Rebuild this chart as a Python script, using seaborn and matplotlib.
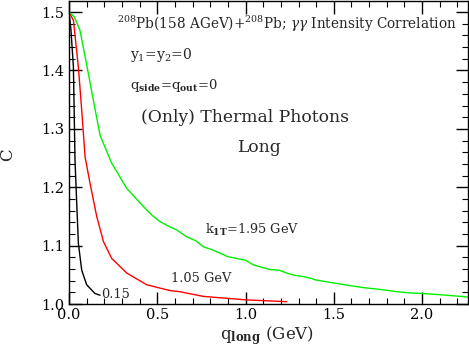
import numpy as np
import pandas as pd
import matplotlib
matplotlib.use("Agg")
import matplotlib.pyplot as plt
import seaborn as sns
from matplotlib.ticker import MultipleLocator, FormatStrFormatter

# Data
q_black = [0.0, 0.011, 0.025, 0.034, 0.043, 0.053, 0.072, 0.10, 0.147, 0.176]
c_black = [1.5, 1.47, 1.406, 1.247, 1.178, 1.104, 1.058, 1.033, 1.018, 1.015]

q_red = [0.0, 0.025, 0.053, 0.072, 0.091, 0.119, 0.157, 0.195, 0.242, 0.327, 0.44,
         0.572, 0.629, 0.761, 1.007, 1.233]
c_red = [1.5, 1.486, 1.406, 1.332, 1.252, 1.207, 1.15, 1.107, 1.078, 1.053, 1.033,
         1.023, 1.021, 1.013, 1.007, 1.004]

q_green = [0.0, 0.03, 0.062, 0.10, 0.138, 0.176, 0.213, 0.242, 0.28, 0.327, 0.37, 0.421,
           0.47, 0.516, 0.572, 0.61, 0.667, 0.72, 0.761, 0.81, 0.856, 0.9, 0.95, 1.0,
           1.044, 1.09, 1.139, 1.19, 1.233, 1.28, 1.327, 1.37, 1.40, 1.48, 1.58, 1.67,
           1.76, 1.86, 1.93, 2.0, 2.1, 2.18, 2.26]
c_green = [1.5, 1.492, 1.469, 1.41, 1.349, 1.289, 1.262, 1.241, 1.222, 1.198, 1.184, 1.167,
           1.152, 1.141, 1.132, 1.127, 1.115, 1.108, 1.098, 1.093, 1.087, 1.081, 1.078, 1.075,
           1.067, 1.063, 1.059, 1.058, 1.053, 1.049, 1.047, 1.044, 1.041, 1.037, 1.032, 1.028,
           1.025, 1.021, 1.019, 1.018, 1.016, 1.014, 1.012]

df = pd.concat([
    pd.DataFrame({"q": q_black, "C": c_black, "k": "0.15"}),
    pd.DataFrame({"q": q_red, "C": c_red, "k": "1.05"}),
    pd.DataFrame({"q": q_green, "C": c_green, "k": "1.95"}),
])

sns.set_style("ticks")
plt.rcParams['font.family'] = ['DejaVu Serif']
plt.rcParams['mathtext.fontset'] = 'dejavuserif'

fig = plt.figure(figsize=(4.69, 3.46), dpi=100)
ax = fig.add_axes([69/469, 42/346, 399/469, 303/346])

sns.lineplot(data=df, x="q", y="C", hue="k",
             palette={"0.15": "black", "1.05": "#ff0000", "1.95": "#00f000"},
             legend=False, ax=ax, linewidth=1.0, sort=False)

ax.set_xlim(0, 2.26)
ax.set_ylim(1.0, 1.519)
ax.xaxis.set_major_locator(MultipleLocator(0.5))
ax.xaxis.set_minor_locator(MultipleLocator(0.1))
ax.yaxis.set_major_locator(MultipleLocator(0.1))
ax.yaxis.set_minor_locator(MultipleLocator(0.02))
ax.xaxis.set_major_formatter(FormatStrFormatter('%.1f'))
ax.yaxis.set_major_formatter(FormatStrFormatter('%.1f'))
ax.tick_params(which='both', direction='in', top=True, right=True, labelsize=10.5, colors='black')
ax.tick_params(which='major', length=9, width=1)
ax.tick_params(which='minor', length=4.5, width=0.8)
ax.tick_params(axis='x', pad=3)
for s in ax.spines.values():
    s.set_linewidth(1.0)
    s.set_color('black')

ax.set_xlabel(r"q$_{\mathbf{long}}$ (GeV)", fontsize=12)
ax.set_ylabel("C", fontsize=12)
ax.xaxis.set_label_coords((267 - 69) / 399, (304 - 324) / 303)
ax.yaxis.set_label_coords((16 - 69) / 399, (304 - 155) / 303)

tr = ax.transAxes
def px(x, y):
    return ((x - 69) / 399, (304 - y) / 303)

ax.text(*px(117, 24), r"$^{208}$Pb(158 AGeV)+$^{208}$Pb; $\gamma\gamma$ Intensity Correlation",
        transform=tr, fontsize=9.8, va='center', ha='left')
ax.text(*px(130, 55), r"y$_1$=y$_2$=0", transform=tr, fontsize=10, va='center')
ax.text(*px(130, 85), r"q$_{\mathbf{side}}$=q$_{\mathbf{out}}$=0", transform=tr, fontsize=9.5, va='center')
ax.text(*px(245, 118), "(Only) Thermal Photons", transform=tr, fontsize=12.3, va='center', ha='center')
ax.text(*px(259, 148), "Long", transform=tr, fontsize=12.3, va='center', ha='center')
ax.text(*px(205, 230), r"k$_{\mathbf{1T}}$=1.95 GeV", transform=tr, fontsize=9.3, va='center')
ax.text(*px(171, 278), "1.05 GeV", transform=tr, fontsize=9.3, va='center')
ax.text(*px(101, 295), "0.15", transform=tr, fontsize=9.3, va='center')

fig.savefig("out.png", dpi=100)
